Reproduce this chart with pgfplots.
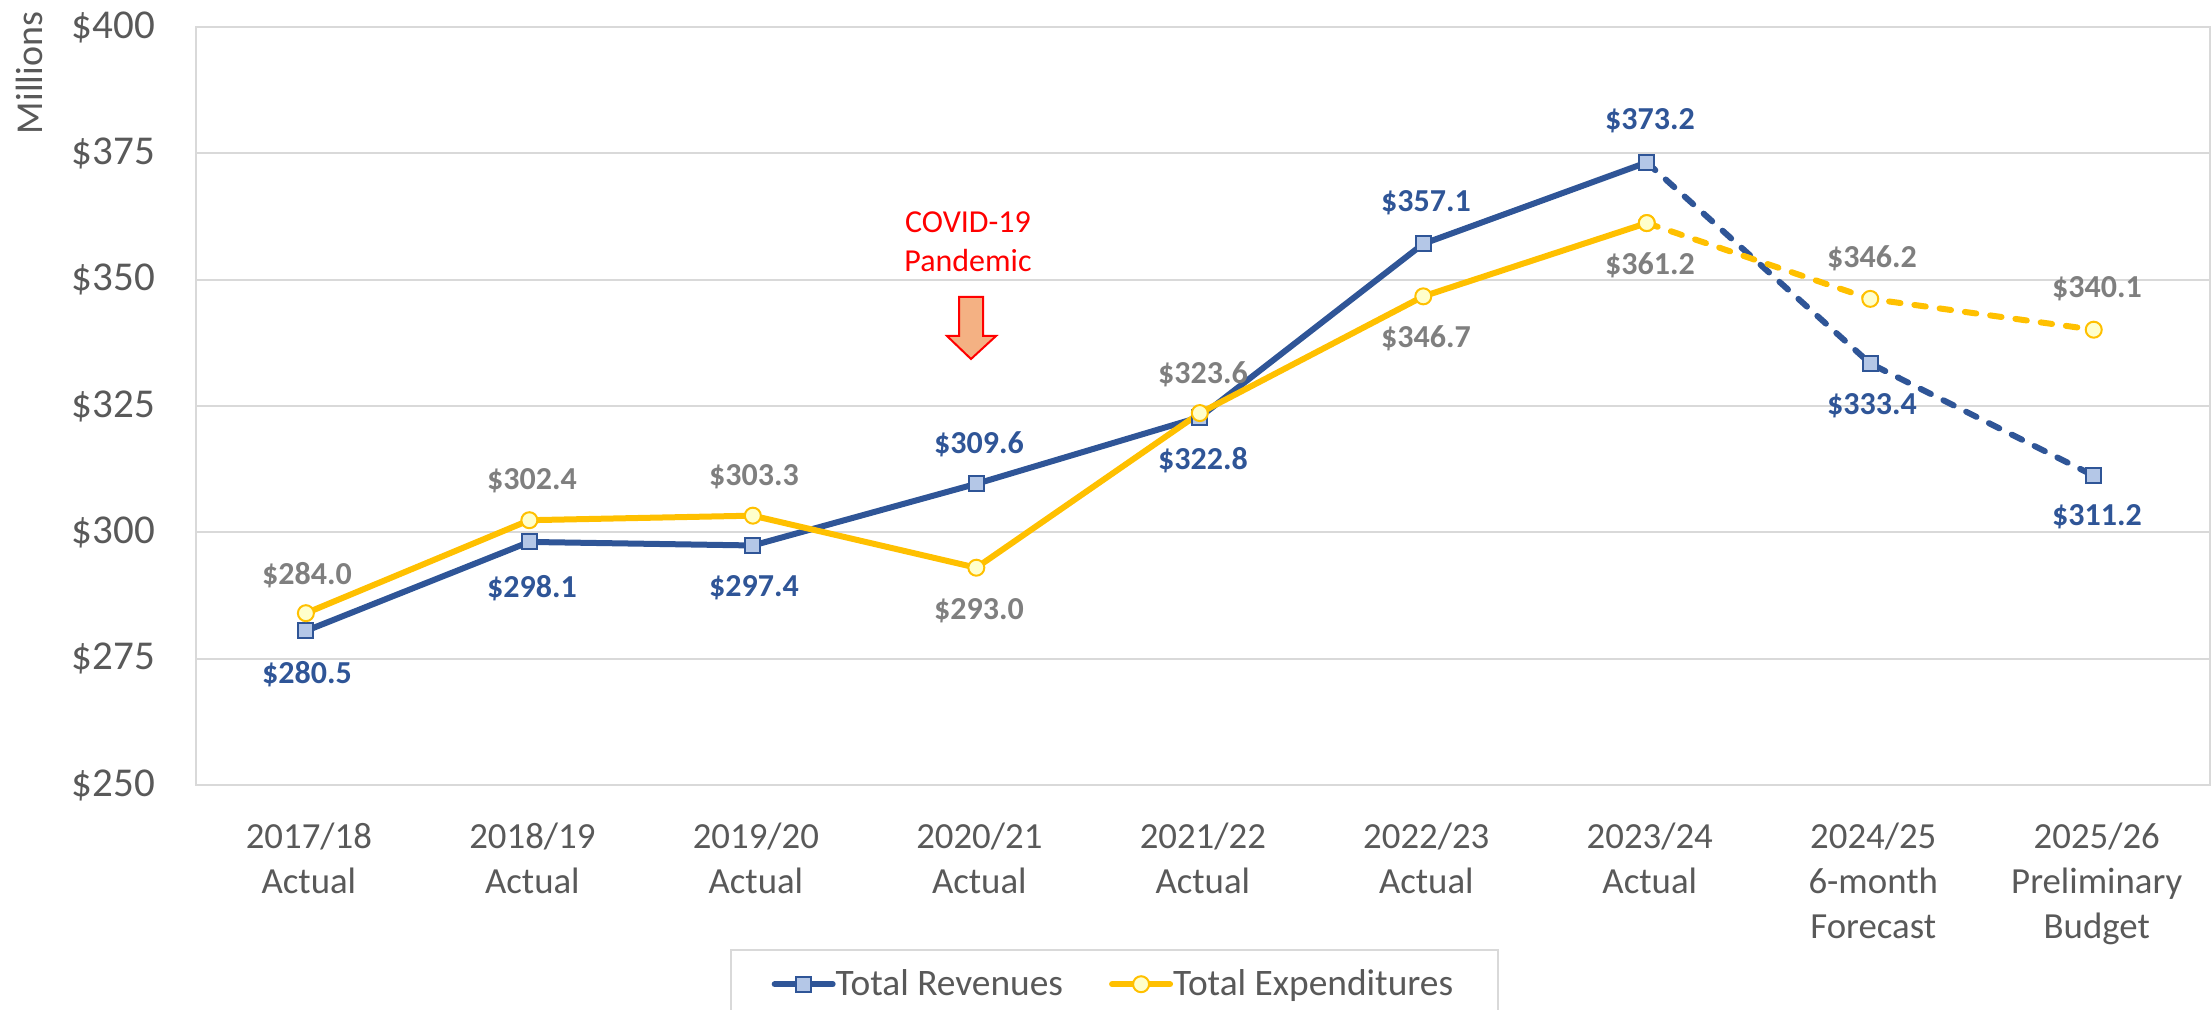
\documentclass[border=0pt]{standalone}
\usepackage{fontspec}
\setmainfont{Carlito}
\usepackage{pgfplots}
\pgfplotsset{compat=1.18}
\definecolor{revblue}{HTML}{2F5597}
\definecolor{revfill}{HTML}{B4C7E7}
\definecolor{expgold}{HTML}{FFC000}
\definecolor{expfill}{HTML}{FFFFCC}
\definecolor{tickgray}{HTML}{595959}
\definecolor{labgray}{HTML}{7F7F7F}
\definecolor{gridgray}{HTML}{D9D9D9}
\definecolor{arrowfill}{HTML}{F4B183}

\pgfplotstableread{
x y
0 280.5
1 298.1
2 297.4
3 309.6
4 322.8
5 357.1
6 373.2
}\revactual
\pgfplotstableread{
x y
6 373.2
7 333.4
8 311.2
}\revforecast
\pgfplotstableread{
x y
0 284.0
1 302.4
2 303.3
3 293.0
4 323.6
5 346.7
6 361.2
}\expactual
\pgfplotstableread{
x y
6 361.2
7 346.2
8 340.1
}\expforecast

\begin{document}
\begin{tikzpicture}[x=0.5pt,y=-0.5pt,
    revlab/.style={font=\fontsize{16}{16}\selectfont\bfseries,text=revblue},
    explab/.style={font=\fontsize{16}{16}\selectfont\bfseries,text=labgray}]
\path[use as bounding box] (0,0) rectangle (2211,1010);
\begin{axis}[
    at={(98pt,-392.5pt)}, anchor=south west,
    scale only axis,
    width=1007pt, height=379pt,
    xmin=-0.4917, xmax=8.52,
    ymin=250, ymax=400,
    xtick={0,...,8},
    xticklabels={2017/18\\Actual,2018/19\\Actual,2019/20\\Actual,2020/21\\Actual,2021/22\\Actual,2022/23\\Actual,2023/24\\Actual,2024/25\\6-month\\Forecast,2025/26\\Preliminary\\Budget},
    ytick={250,275,...,400},
    yticklabel={\$\pgfmathprintnumber[assume math mode=true]{\tick}},
    tick style={draw=none},
    axis line style={draw=gridgray,line width=1pt},
    ymajorgrids,
    grid style={draw=gridgray,line width=0.9pt},
    yticklabel style={font=\fontsize{20.5}{20.5}\selectfont,text=tickgray,xshift=-17pt},
    xticklabel style={font=\fontsize{18.4}{22.5}\selectfont,text=tickgray,align=center,xshift=1.5pt,yshift=-15.5pt},
    clip=false,
    legend columns=2,
    legend style={at={(0.265,-0.216)},anchor=north west,draw=gridgray,line width=1pt,
        font=\fontsize{18.7}{22}\selectfont,text=tickgray,
        inner xsep=20.5pt,inner ysep=8pt,
        /tikz/every even column/.append style={column sep=21pt},
        /tikz/every odd column/.append style={column sep=-2pt}},
    legend image code/.code={\draw[mark repeat=2,mark phase=2,#1] plot coordinates {(0pt,0pt)(14.5pt,0pt)(29pt,0pt)};},
    revstyle/.style={draw=revblue,line width=3pt,line cap=round,mark=square*,mark size=3.75pt,
        mark options={solid,draw=revblue,fill=revfill,line width=1pt}},
    expstyle/.style={draw=expgold,line width=3pt,line cap=round,mark=*,mark size=4pt,
        mark options={solid,draw=expgold,fill=expfill,line width=1pt}},
    dashstyle/.style={dash pattern=on 5.75pt off 7pt},
]
\addplot[revstyle] table {\revactual};
\addlegendentry{Total Revenues}
\addplot[revstyle,dashstyle,forget plot] table {\revforecast};
\addplot[expstyle] table {\expactual};
\addlegendentry{Total Expenditures}
\addplot[expstyle,dashstyle,forget plot] table {\expforecast};
\end{axis}

% data labels, placed in picture pixels
\node[revlab] at (307,674) {\$280.5};
\node[revlab] at (532,588) {\$298.1};
\node[revlab] at (754,588) {\$297.4};
\node[revlab] at (979,444) {\$309.6};
\node[revlab] at (1203,460) {\$322.8};
\node[revlab] at (1426,203) {\$357.1};
\node[revlab] at (1650,121) {\$373.2};
\node[revlab] at (1872,406) {\$333.4};
\node[revlab] at (2097,517) {\$311.2};
\node[explab] at (307,575) {\$284.0};
\node[explab] at (532,481) {\$302.4};
\node[explab] at (754,477) {\$303.3};
\node[explab] at (979,611) {\$293.0};
\node[explab] at (1203,374) {\$323.6};
\node[explab] at (1426,338) {\$346.7};
\node[explab] at (1650,265) {\$361.2};
\node[explab] at (1872,258) {\$346.2};
\node[explab] at (2097,289) {\$340.1};

\node[rotate=90,text=tickgray,font=\fontsize{19}{19}\selectfont] at (29,73) {Millions};
\node[text=red,align=center,font=\fontsize{16}{19.5}\selectfont] at (968,242) {COVID-19\\Pandemic};
\draw[draw=red,fill=arrowfill,line width=1pt,line join=miter]
    (959,297) -- (983,297) -- (983,336) -- (996,336) -- (971,359) -- (947,336) -- (959,336) -- cycle;
\end{tikzpicture}
\end{document}
